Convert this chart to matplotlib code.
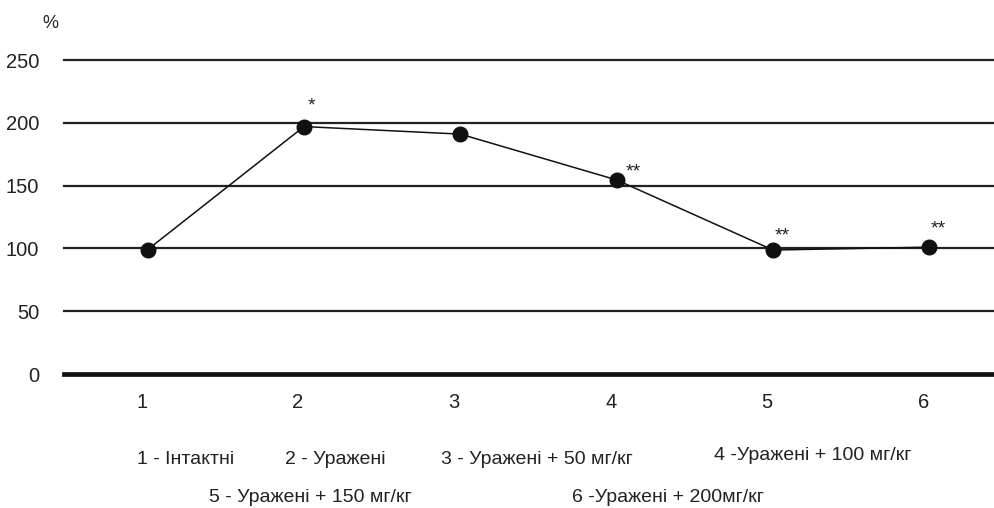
import matplotlib.pyplot as plt
from matplotlib.transforms import ScaledTranslation

plt.rcParams['font.family'] = ['Liberation Sans', 'DejaVu Sans']

groups = [1, 2, 3, 4, 5, 6]
values = [99, 197, 191, 154.5, 98.7, 101]
marks = ["", "*", "", "**", "**", "**"]
mark_offsets = [(0, 0), (7, 21), (0, 0), (17, 8), (9, 14), (9, 18)]   # pixels
legend_row1 = ["1 - Інтактні", "2 - Уражені", "3 - Уражені + 50 мг/кг", "4 -Уражені + 100 мг/кг"]
legend_row2 = ["5 - Уражені + 150 мг/кг", "6 -Уражені + 200мг/кг"]

fig = plt.figure(figsize=(9.95, 5.08), dpi=100)
ax = fig.add_axes([64/995, 1 - 374/508, 1 - 64/995, 314/508])

# lignes de grille
for v in [50, 100, 150, 200, 250]:
    ax.axhline(v, color="#222222", lw=1.6, zorder=1, clip_on=False)
ax.axhline(0, color="#111111", lw=3.4, zorder=1, clip_on=False)

ax.plot(groups, values, '-', color="#111111", lw=1.1, marker='o', markersize=10.5,
        markerfacecolor="#111111", markeredgecolor="#111111", zorder=3)

for x, y, m, (dx, dy) in zip(groups, values, marks, mark_offsets):
    if m:
        ax.annotate(m, (x, y), xytext=(dx, dy), textcoords='offset pixels',
                    ha='center', va='center', fontsize=14, color="#222222")

ax.set_xlim(0.465, 6.42)
ax.set_ylim(0, 250)
ax.set_yticks([0, 50, 100, 150, 200, 250])
ax.set_xticks(groups)
ax.tick_params(length=0, labelsize=14.5, colors="#222222")
ax.tick_params(axis='y', pad=18)
ax.tick_params(axis='x', pad=14)
for lab in ax.get_xticklabels():
    lab.set_transform(lab.get_transform() + ScaledTranslation(-6/100, 0, fig.dpi_scale_trans))
for s in ax.spines.values():
    s.set_visible(False)

fig.text(50/995, 1 - 23/508, "%", ha='center', va='center', fontsize=13, color="#222222")

xs1 = [186/995, 335/995, 537/995, 813/995]
ys1 = [459, 459, 459, 455]
for t, x, y in zip(legend_row1, xs1, ys1):
    fig.text(x, 1 - y/508, t, ha='center', va='center', fontsize=14, color="#222222")
xs2 = [310/995, 668/995]
for t, x in zip(legend_row2, xs2):
    fig.text(x, 1 - 497/508, t, ha='center', va='center', fontsize=14, color="#222222")

fig.savefig("out.png", dpi=100)
plt.close()
